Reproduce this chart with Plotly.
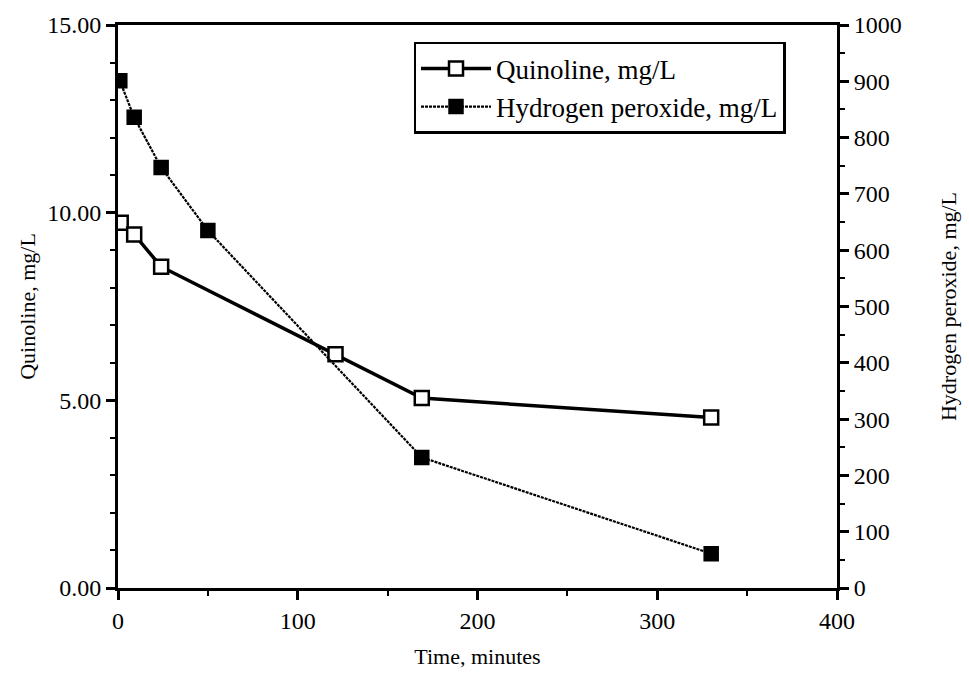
import plotly.graph_objects as go

time_q = [1.5, 9, 24, 121, 169, 330]
quinoline = [9.73, 9.42, 8.56, 6.23, 5.06, 4.54]

time_h = [1, 9, 24, 50, 169, 330]
peroxide = [901, 836, 747, 635, 232, 61]

FONT = "'Liberation Serif', 'Times New Roman', Times, serif"

fig = go.Figure()
fig.add_trace(go.Scatter(
    x=time_q, y=quinoline, name="Quinoline, mg/L", mode="lines+markers",
    line=dict(color="black", width=3.5),
    marker=dict(symbol="square", size=14, color="white", line=dict(color="black", width=2.5)),
    yaxis="y"))
fig.add_trace(go.Scatter(
    x=time_h, y=peroxide, name="Hydrogen peroxide, mg/L", mode="lines+markers",
    line=dict(color="black", width=2.2, dash="3px,1px"),
    marker=dict(symbol="square", size=14, color="black", line=dict(color="black", width=1.5)),
    yaxis="y2"))

axis_common = dict(showgrid=False, zeroline=False, linecolor="black", linewidth=3,
                   ticks="outside", tickcolor="black", tickwidth=2.5,
                   tickfont=dict(family=FONT, size=24, color="black"))

fig.update_layout(
    width=969, height=677,
    margin=dict(l=118, r=129, t=22, b=77),
    paper_bgcolor="white", plot_bgcolor="white",
    font=dict(family=FONT, color="black"),
    xaxis=dict(range=[0, 400], dtick=100, ticklen=9, showline=True, mirror=True,
               minor=dict(dtick=50, ticks="outside", ticklen=5, tickwidth=2, tickcolor="black"),
               title=dict(text="Time, minutes", font=dict(family=FONT, size=22, color="black"), standoff=16),
               **axis_common),
    yaxis=dict(range=[0, 15], dtick=5, tickformat=".2f", ticklen=9, showline=True,
               minor=dict(dtick=1, ticks="outside", ticklen=5, tickwidth=2, tickcolor="black"),
               title=dict(text="Quinoline, mg/L", font=dict(family=FONT, size=22, color="black"), standoff=6),
               **axis_common),
    yaxis2=dict(range=[0, 1000], dtick=100, overlaying="y", side="right", ticklen=9, showline=True,
                minor=dict(dtick=50, ticks="outside", ticklen=5, tickwidth=2, tickcolor="black"),
                title=dict(text="Hydrogen peroxide, mg/L", font=dict(family=FONT, size=22, color="black"), standoff=40),
                **axis_common),
    legend=dict(x=0.411, y=0.97, xanchor="left", yanchor="top",
                bordercolor="black", borderwidth=2.5, bgcolor="white",
                font=dict(family=FONT, size=27, color="black"), itemwidth=70,
                tracegroupgap=6),
    showlegend=True,
)

fig.write_html("out.html")
